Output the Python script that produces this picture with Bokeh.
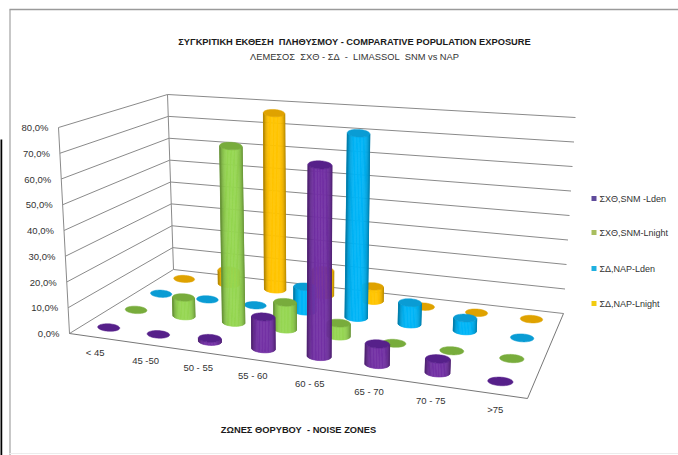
import numpy as np
from bokeh.core.properties import value
from bokeh.embed import file_html
from bokeh.plotting import figure
from bokeh.resources import INLINE

CATEGORIES = ["< 45", "45 -50", "50 - 55", "55 - 60", "60 - 65", "65 - 70", "70 - 75", ">75"]
SERIES_NAMES = ["ΣΧΘ,SNM -Lden", "ΣΧΘ,SNM-Lnight", "ΣΔ,NAP-Lden", "ΣΔ,NAP-Lnight"]
SNM_LDEN = [0.0, 0.0, 1.2, 12.0, 71.0, 7.5, 5.0, 0.0]
SNM_LNIGHT = [0.0, 7.5, 70.0, 10.5, 5.0, 0.0, 0.0, 0.0]
NAP_LDEN = [0.0, 0.0, 0.0, 10.0, 74.0, 8.5, 5.0, 0.0]
NAP_LNIGHT = [0.0, 6.0, 76.0, 10.5, 6.0, 0.0, 0.0, 0.0]
Y_TICKS = [0, 10, 20, 30, 40, 50, 60, 70, 80]

SERIES_VALUES = [SNM_LDEN, SNM_LNIGHT, NAP_LDEN, NAP_LNIGHT]
SERIES_COLORS = ["#7030A0", "#92D050", "#00B0F0", "#FFC000"]
TOP_COLORS = ["#56208A", "#78AC3C", "#0A9CD4", "#DFA200"]
LEGEND_COLORS = ["#5F4B9B", "#A9BE5F", "#1FB0E0", "#F2CB10"]
FONT = value("Liberation Sans")
Y_MAX = 80.0

# Screen corners of the floor and of the plane at the top of the value axis,
# ordered front-left, back-left, back-right, front-right.
FLOOR = [(69, 333), (173, 269), (563, 313), (527, 398)]
CEILING = [(58, 127), (167, 94), (575, 117), (543, 167)]
# Pixel height of the full value axis, and cylinder radius, at those four corners
CORNER_HEIGHT = [206, 175, 196, 231]
CORNER_RADIUS = [11.0, 10.3, 11.0, 13.0]
# Verticals converge towards this page column
VANISH_X = 300
LEAN = 0.00023


def homography(corners):
    src = [(0, 0), (0, 1), (1, 1), (1, 0)]
    rows, rhs = [], []
    for (u, v), (x, y) in zip(src, corners):
        rows.append([u, v, 1, 0, 0, 0, -u * x, -v * x])
        rows.append([0, 0, 0, u, v, 1, -u * y, -v * y])
        rhs += [x, y]
    return np.append(np.linalg.solve(np.array(rows, float), np.array(rhs, float)), 1).reshape(3, 3)


H_FLOOR, H_CEIL = homography(FLOOR), homography(CEILING)


def project(u, v, pct):
    """Map category depth coordinates and a percentage to the page."""
    u, v = np.asarray(u, float), np.asarray(v, float)
    pts = []
    for h in (H_FLOOR, H_CEIL):
        w = h[2, 0] * u + h[2, 1] * v + h[2, 2]
        pts.append(((h[0, 0] * u + h[0, 1] * v + h[0, 2]) / w,
                    (h[1, 0] * u + h[1, 1] * v + h[1, 2]) / w))
    t = pct / Y_MAX
    return pts[0][0] + (pts[1][0] - pts[0][0]) * t, pts[0][1] + (pts[1][1] - pts[0][1]) * t


def blend(corners, u, v):
    a, b, c, d = corners
    return (1 - u) * (1 - v) * a + (1 - u) * v * b + u * v * c + u * (1 - v) * d


def bar_top(u, v, pct):
    """Centre of a cylinder's top face for a value standing on floor point (u, v)."""
    x, y = project(np.array(u), np.array(v), 0.0)
    rise = blend(CORNER_HEIGHT, u, v) * pct / Y_MAX
    return x + (x - VANISH_X) * LEAN * rise, y - rise


def shade(color, k):
    rgb = [int(color[i:i + 2], 16) for i in (1, 3, 5)]
    return "#" + "".join(f"{int(min(255, max(0, c * k))):02x}" for c in rgb)


p = figure(width=678, height=455, x_range=(0, 678), y_range=(455, 0),
           output_backend="svg", toolbar_location=None, min_border=0,
           outline_line_color=None, background_fill_color="white")
p.axis.visible = False
p.grid.visible = False

# Page frame
p.line([9.5, 9.5], [9, 455], line_color="#b4b4b4", line_width=1.5)
p.line([9, 678], [9, 9], line_color="#9a9a9a", line_width=1.5)
p.line([9, 678], [453, 453], line_color="#ececec", line_width=1)
p.line([0.5, 0.5], [139, 455], line_color="black", line_width=2.5)

# Walls: value gridlines along the left and back sides
for tick in Y_TICKS:
    xs, ys = project(np.array([0, 0, 1]), np.array([0, 1, 1]), float(tick))
    p.line(xs, ys, line_color="#8a8a8a", line_width=1)
    p.text([xs[0] - 10], [ys[0]], text=[f"{tick},0%"], text_font=FONT, text_font_size="9.5px",
           text_align="right", text_baseline="middle", text_color="#333333")
for u, v in [(0, 0), (0, 1)]:
    xs, ys = project(np.array([u, u]), np.array([v, v]), np.array([0.0, Y_MAX]))
    p.line(xs, ys, line_color="#8a8a8a", line_width=1)

# Floor outline along the front and right edges
xs, ys = project(np.array([0, 1, 1]), np.array([0, 0, 1]), 0.0)
p.line(xs, ys, line_color="#777777", line_width=1)

# Cylinders, farthest row first; ellipses stay level on the page
THETA = np.linspace(0, 2 * np.pi, 61)
FRONT = np.linspace(0, np.pi, 25)
COUNT = len(CATEGORIES)
TILT = 0.05


def ring(cx, cy, rx, angles):
    dx = rx * np.cos(angles)
    return cx + dx, cy + 0.34 * rx * np.sin(angles) + TILT * dx


for s in (3, 2, 1, 0):
    v0 = (s + 0.5) / 4
    for c in range(COUNT):
        u0 = (c + 0.5) / COUNT
        val = SERIES_VALUES[s][c]
        rx = blend(CORNER_RADIUS, u0, v0)
        bcx, bcy = project(np.array(u0), np.array(v0), 0.0)
        tcx, tcy = bar_top(u0, v0, val)
        color = SERIES_COLORS[s]
        if val > 0:
            bx, by = ring(bcx, bcy, rx, FRONT)
            tx, ty = ring(tcx, tcy, rx, FRONT)
            for i in range(len(FRONT) - 1):
                off = abs(np.cos((FRONT[i] + FRONT[i + 1]) / 2))
                fill = shade(color, 1.03 - 0.32 * off ** 4)
                p.patch([bx[i], bx[i + 1], tx[i + 1], tx[i]], [by[i], by[i + 1], ty[i + 1], ty[i]],
                        fill_color=fill, line_color=fill, line_width=0.6)
        ex, ey = ring(tcx, tcy, rx, THETA)
        p.patch(ex, ey, fill_color=TOP_COLORS[s], line_color=TOP_COLORS[s], line_width=0.5)

# Category labels below the front edge
for c, name in enumerate(CATEGORIES):
    u0 = (c + 0.5) / COUNT
    xs, ys = project(np.array([u0]), np.array([0.0]), 0.0)
    p.text(xs + 1, ys + 16, text=[name], text_font=FONT, text_font_size="9.5px",
           text_align="center", text_baseline="middle", text_color="#333333")

# Titles
p.text([354], [41], text=["ΣΥΓΚΡΙΤΙΚΗ ΕΚΘΕΣΗ\u00a0 ΠΛΗΘΥΣΜΟΥ - COMPARATIVE POPULATION EXPOSURE"], text_font=FONT,
       text_font_size="9.3px", text_font_style="bold", text_align="center", text_baseline="middle",
       text_color="#1a1a1a")
p.text([354], [56], text=["ΛΕΜΕΣΟΣ\u00a0 ΣΧΘ - ΣΔ\u00a0 -\u00a0 LIMASSOL\u00a0 SNM vs NAP"], text_font=FONT,
       text_font_size="9.3px", text_align="center", text_baseline="middle", text_color="#333333")
p.text([298], [429], text=["ΖΩΝΕΣ ΘΟΡΥΒΟΥ\u00a0 - NOISE ZONES"], text_font=FONT, text_font_size="9.3px",
       text_font_style="bold", text_align="center", text_baseline="middle", text_color="#1a1a1a")

# Legend
LEGEND_Y = [198, 232, 268, 303]
for name, col, ly in zip(SERIES_NAMES, LEGEND_COLORS, LEGEND_Y):
    p.rect([593.5], [ly], width=5, height=5, fill_color=col, line_color=None)
    p.text([599], [ly], text=[name], text_font=FONT, text_font_size="9px",
           text_baseline="middle", text_color="#333333")

open("out.html", "w").write(file_html(p, INLINE))
